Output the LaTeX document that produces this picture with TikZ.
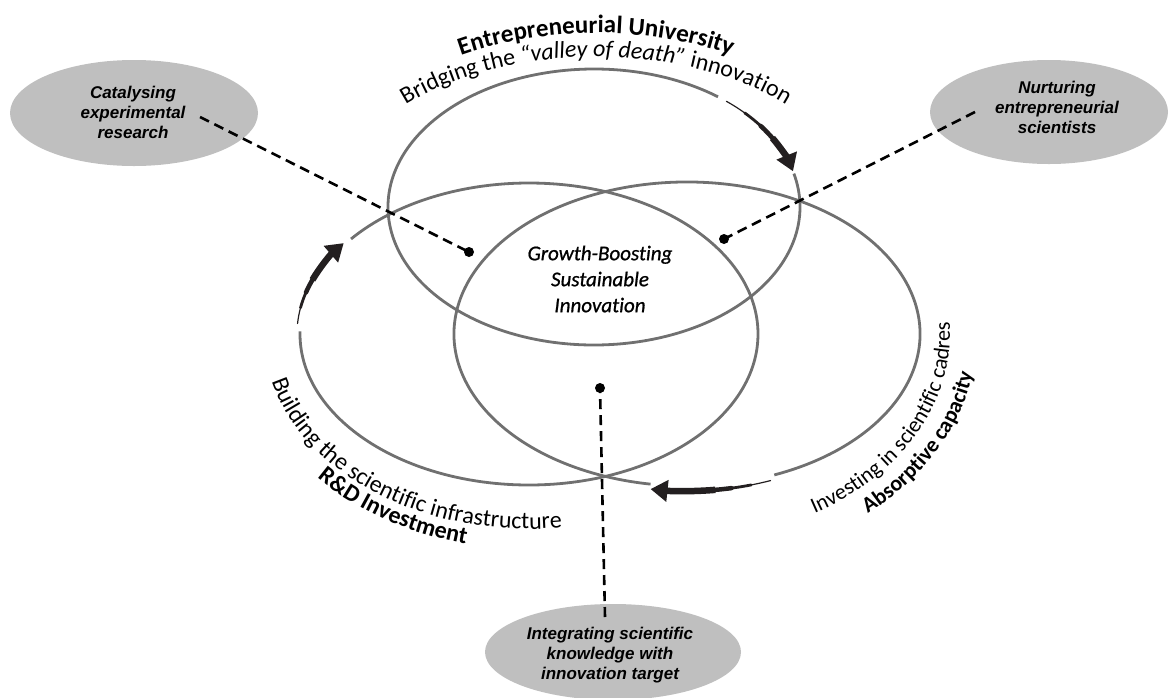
\documentclass[tikz,border=0pt]{standalone}
\usepackage{fontspec}
\usetikzlibrary{shapes.geometric,decorations.text,arrows.meta}
\newfontfamily\carl[Ligatures=NoCommon]{Carlito}
\newfontfamily\carlsemi[Ligatures=NoCommon,FakeBold=0.9]{Carlito}
\newfontfamily\libs{Liberation Sans}
\definecolor{ringgray}{RGB}{112,112,112}
\definecolor{bubble}{RGB}{191,191,191}
\definecolor{arrowdark}{RGB}{35,31,32}
\tikzset{
  ring/.style={draw=ringgray, line width=2.8pt},
  bubblenode/.style={ellipse, fill=bubble, inner sep=0pt},
  bubbletext/.style={font=\libs\bfseries\itshape\fontsize{17pt}{20pt}\selectfont, align=center, text=black},
  coretext/.style={font=\carlsemi\itshape\fontsize{21pt}{26pt}\selectfont, align=center, text=black},
  dashlink/.style={line width=2.6pt, dash pattern=on 10pt off 6pt},
  dotnode/.style={circle, fill=black, inner sep=0pt, minimum size=10pt},
  swoosh/.style={draw=arrowdark, line cap=round},
  swooshhead/.style={draw=arrowdark, fill=arrowdark, line width=6.5pt, -{Triangle[length=17pt,width=21pt]}},
}
\begin{document}
\begin{tikzpicture}[x=1pt,y=1pt]
\useasboundingbox (0,0) rectangle (1173,-697);
\clip (0,0) rectangle (1173,-697);

% centres of the three rings
\coordinate (ctop) at (594,-207);
\coordinate (cleft) at (529,-334);
\coordinate (cright) at (687,-334);
\coordinate (ctopT) at (596,-207);

% grey bubbles
\node[bubblenode, minimum width=248pt, minimum height=106pt] (cat) at (134,-113) {};
\node[bubbletext] (catT) at (133,-112) {Catalysing\\experimental\\research};
\node[bubblenode, minimum width=238pt, minimum height=104pt] (nurt) at (1049,-112) {};
\node[bubbletext] (nurtT) at (1057,-107) {Nurturing\\entrepreneurial\\scientists};
\node[bubblenode, minimum width=256pt, minimum height=96pt] (integ) at (613,-652) {};
\node[bubbletext] (integT) at (610,-655) {Integrating scientific\\knowledge with\\innovation target};

% rings (with gaps for the arrows)
\draw[ring] (ctop) ++(53:206 and 138) arc[start angle=53, end angle=374, x radius=206, y radius=138];
\draw[ring] (cleft) ++(179:229 and 151) arc[start angle=179, end angle=501, x radius=229, y radius=151];
\draw[ring] (cright) ++(292:233 and 152) arc[start angle=292, end angle=621, x radius=233, y radius=152];

% top arrow
\draw[swoosh, line width=1.2pt] (ctop) ++(50:206 and 138) arc[start angle=50, end angle=22, x radius=206, y radius=138];
\draw[swoosh, line width=2.8pt] (ctop) ++(43:206 and 138) arc[start angle=43, end angle=22, x radius=206, y radius=138];
\draw[swoosh, line width=4.5pt] (ctop) ++(36:206 and 138) arc[start angle=36, end angle=22, x radius=206, y radius=138];
\draw[swooshhead] (ctop) ++(30:206 and 138) arc[start angle=30, end angle=15, x radius=206, y radius=138];

% left arrow
\draw[swoosh, line width=1.2pt] (cleft) ++(176:232 and 151) arc[start angle=176, end angle=152, x radius=232, y radius=151];
\draw[swoosh, line width=2.8pt] (cleft) ++(170:232 and 151) arc[start angle=170, end angle=152, x radius=232, y radius=151];
\draw[swoosh, line width=4.5pt] (cleft) ++(164:232 and 151) arc[start angle=164, end angle=152, x radius=232, y radius=151];
\draw[swooshhead] (cleft) ++(159:232 and 151) arc[start angle=159, end angle=143, x radius=232, y radius=151];

% bottom arrow
\draw[swoosh, line width=1.2pt] (cright) ++(291:233 and 157) arc[start angle=291, end angle=272, x radius=233, y radius=157];
\draw[swoosh, line width=2.8pt] (cright) ++(286:233 and 157) arc[start angle=286, end angle=272, x radius=233, y radius=157];
\draw[swoosh, line width=4.5pt] (cright) ++(281:233 and 157) arc[start angle=281, end angle=272, x radius=233, y radius=157];
\draw[swooshhead] (cright) ++(277:233 and 157) arc[start angle=277, end angle=261, x radius=233, y radius=157];

% centre text
\node[coretext] (core) at (600,-279) {Growth-Boosting\\Sustainable\\Innovation};

% dots and dashed links
\node[dotnode] (dotL) at (469,-252) {};
\node[dotnode] (dotR) at (724,-239) {};
\node[dotnode] (dotB) at (600,-388) {};
\coordinate (startL) at (200,-117);
\coordinate (startR) at (975,-112);
\coordinate (startB) at (605,-617);
\draw[dashlink] (startL) -- (dotL.center);
\draw[dashlink] (startR) -- (dotR.center);
\draw[dashlink] (startB) -- (dotB.center);

% curved labels
\path[decorate, decoration={text along path, text align=center,
  text={|\carl\bfseries\fontsize{25pt}{30pt}\selectfont|Entrepreneurial University}}]
  (ctopT) ++(150:276 and 174) arc[start angle=150, end angle=30, x radius=276, y radius=174];
\path[decorate, decoration={text along path, text align=center,
  text={|\carl\fontsize{24pt}{29pt}\selectfont|Bridging the |\carl\itshape\fontsize{24pt}{29pt}\selectfont|“valley of death” |\carl\upshape\fontsize{24pt}{29pt}\selectfont|innovation}}]
  (ctopT) ++(160:260 and 150) arc[start angle=160, end angle=20, x radius=260, y radius=150];
\path[decorate, decoration={text along path, text align=left,
  text={|\carl\fontsize{24pt}{29pt}\selectfont|Building the scientific infrastructure}}]
  (cleft) ++(194:265 and 195) arc[start angle=194, end angle=305, x radius=265, y radius=195];
\path[decorate, decoration={text along path, text align=left,
  text={|\carl\bfseries\fontsize{24pt}{29pt}\selectfont|R{\&}D Investment}}]
  (cleft) ++(222:285 and 215) arc[start angle=222, end angle=290, x radius=285, y radius=215];
\path[decorate, decoration={text along path, text align=left,
  text={|\carl\fontsize{22pt}{27pt}\selectfont|Investing in scientific cadres}}]
  (cright) ++(299:263 and 205) arc[start angle=299, end angle=400, x radius=263, y radius=205];
\path[decorate, decoration={text along path, text align=left,
  text={|\carl\bfseries\fontsize{22pt}{27pt}\selectfont|Absorptive capacity}}]
  (cright) ++(308.6:290 and 230) arc[start angle=308.6, end angle=390, x radius=290, y radius=230];
\end{tikzpicture}
\end{document}
